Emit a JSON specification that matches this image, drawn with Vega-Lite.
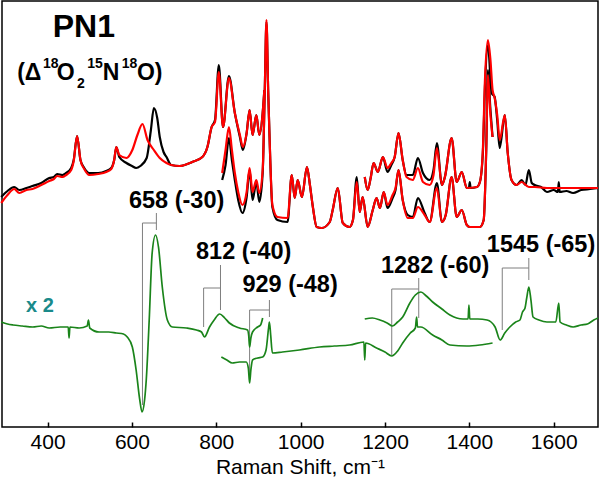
{
  "$schema": "https://vega.github.io/schema/vega-lite/v6.json",
  "width": 596,
  "height": 426,
  "autosize": "none",
  "padding": {"left": 2, "top": 1, "right": 2, "bottom": 52},
  "background": "white",
  "config": {
    "view": {"stroke": "black", "strokeWidth": 1.5},
    "font": "Liberation Sans",
    "axisX": {
      "domain": false,
      "grid": false,
      "tickSize": -5,
      "tickWidth": 1.5,
      "tickColor": "black",
      "labelFont": "Liberation Sans",
      "labelFontSize": 21,
      "labelColor": "black",
      "labelBaseline": "alphabetic",
      "labelPadding": 26,
      "titleFont": "Liberation Sans",
      "titleFontSize": 21,
      "titleFontWeight": "normal",
      "titleColor": "black",
      "titleBaseline": "alphabetic",
      "titleY": 46
    }
  },
  "datasets": {
    "sp": [
      {"s":"kA","c":"k","x":290,"y":230},{"s":"kA","c":"k","x":305,"y":236},{"s":"kA","c":"k","x":321,"y":240},{"s":"kA","c":"k","x":333,"y":237},{"s":"kA","c":"k","x":350,"y":239},{"s":"kA","c":"k","x":364,"y":241},{"s":"kA","c":"k","x":385,"y":244},{"s":"kA","c":"k","x":404,"y":249},{"s":"kA","c":"k","x":415,"y":250},{"s":"kA","c":"k","x":423,"y":253},{"s":"kA","c":"k","x":435,"y":252},{"s":"kA","c":"k","x":444,"y":254},{"s":"kA","c":"k","x":456,"y":259},{"s":"kA","c":"k","x":462,"y":267},{"s":"kA","c":"k","x":470,"y":291},{"s":"kA","c":"k","x":478,"y":267},{"s":"kA","c":"k","x":487,"y":259},{"s":"kA","c":"k","x":499,"y":254},{"s":"kA","c":"k","x":520,"y":254},{"s":"kA","c":"k","x":539,"y":256},{"s":"kA","c":"k","x":551,"y":259},{"s":"kA","c":"k","x":558,"y":267},{"s":"kA","c":"k","x":563,"y":280},{"s":"kA","c":"k","x":570,"y":270},{"s":"kA","c":"k","x":587,"y":264},{"s":"kA","c":"k","x":600,"y":261},{"s":"kA","c":"k","x":610,"y":259},{"s":"kA","c":"k","x":620,"y":261},{"s":"kA","c":"k","x":635,"y":269},{"s":"kA","c":"k","x":645,"y":297},{"s":"kA","c":"k","x":652,"y":319},{"s":"kA","c":"k","x":660,"y":309},{"s":"kA","c":"k","x":666,"y":290},{"s":"kA","c":"k","x":675,"y":275},{"s":"kA","c":"k","x":682,"y":270},{"s":"kA","c":"k","x":693,"y":262},{"s":"kA","c":"k","x":713,"y":261},{"s":"kA","c":"k","x":743,"y":265},{"s":"kA","c":"k","x":767,"y":270},{"s":"kA","c":"k","x":779,"y":280},{"s":"kA","c":"k","x":789,"y":300},{"s":"kA","c":"k","x":797,"y":307},{"s":"kA","c":"k","x":806,"y":362},{"s":"kA","c":"k","x":816,"y":300},{"s":"kA","c":"k","x":830,"y":351},{"s":"kA","c":"k","x":844,"y":314},{"s":"kA","c":"k","x":856,"y":290},{"s":"kA","c":"k","x":863,"y":277},{"s":"kA","c":"k","x":872,"y":294},{"s":"kA","c":"k","x":879,"y":317},{"s":"kA","c":"k","x":886,"y":292},{"s":"kA","c":"k","x":895,"y":312},{"s":"kA","c":"k","x":902,"y":292},{"s":"kA","c":"k","x":910,"y":314},{"s":"kA","c":"k","x":914,"y":337},
      {"s":"kB","c":"k","x":814,"y":247},{"s":"kB","c":"k","x":822,"y":262},{"s":"kB","c":"k","x":830,"y":289},{"s":"kB","c":"k","x":837,"y":267},{"s":"kB","c":"k","x":844,"y":247},{"s":"kB","c":"k","x":852,"y":227},{"s":"kB","c":"k","x":862,"y":214},{"s":"kB","c":"k","x":872,"y":230},{"s":"kB","c":"k","x":879,"y":257},{"s":"kB","c":"k","x":886,"y":227},{"s":"kB","c":"k","x":895,"y":245},{"s":"kB","c":"k","x":902,"y":225},{"s":"kB","c":"k","x":910,"y":254},{"s":"kB","c":"k","x":915,"y":337},{"s":"kB","c":"k","x":919,"y":405},{"s":"kB","c":"k","x":923,"y":337},{"s":"kB","c":"k","x":926,"y":294},{"s":"kB","c":"k","x":933,"y":220},{"s":"kB","c":"k","x":945,"y":207},{"s":"kB","c":"k","x":969,"y":205},{"s":"kB","c":"k","x":979,"y":252},{"s":"kB","c":"k","x":986,"y":229},{"s":"kB","c":"k","x":993,"y":247},{"s":"kB","c":"k","x":1003,"y":230},{"s":"kB","c":"k","x":1015,"y":260},{"s":"kB","c":"k","x":1022,"y":242},{"s":"kB","c":"k","x":1029,"y":220},{"s":"kB","c":"k","x":1038,"y":200},{"s":"kB","c":"k","x":1050,"y":199},{"s":"kB","c":"k","x":1069,"y":205},{"s":"kB","c":"k","x":1076,"y":217},{"s":"kB","c":"k","x":1088,"y":239},{"s":"kB","c":"k","x":1100,"y":204},{"s":"kB","c":"k","x":1116,"y":200},{"s":"kB","c":"k","x":1124,"y":207},{"s":"kB","c":"k","x":1133,"y":250},{"s":"kB","c":"k","x":1140,"y":215},{"s":"kB","c":"k","x":1147,"y":230},{"s":"kB","c":"k","x":1159,"y":200},{"s":"kB","c":"k","x":1171,"y":217},{"s":"kB","c":"k","x":1180,"y":229},{"s":"kB","c":"k","x":1188,"y":219},{"s":"kB","c":"k","x":1197,"y":235},{"s":"kB","c":"k","x":1206,"y":219},{"s":"kB","c":"k","x":1218,"y":229},{"s":"kB","c":"k","x":1225,"y":237},{"s":"kB","c":"k","x":1232,"y":257},{"s":"kB","c":"k","x":1242,"y":227},{"s":"kB","c":"k","x":1254,"y":212},{"s":"kB","c":"k","x":1266,"y":210},{"s":"kB","c":"k","x":1278,"y":229},{"s":"kB","c":"k","x":1294,"y":214},{"s":"kB","c":"k","x":1306,"y":205},{"s":"kB","c":"k","x":1323,"y":244},{"s":"kB","c":"k","x":1335,"y":205},{"s":"kB","c":"k","x":1344,"y":212},{"s":"kB","c":"k","x":1358,"y":250},{"s":"kB","c":"k","x":1370,"y":210},{"s":"kB","c":"k","x":1382,"y":217},{"s":"kB","c":"k","x":1394,"y":202},{"s":"kB","c":"k","x":1401,"y":200},{"s":"kB","c":"k","x":1425,"y":200},{"s":"kB","c":"k","x":1434,"y":207},{"s":"kB","c":"k","x":1440,"y":277},{"s":"kB","c":"k","x":1444,"y":357},{"s":"kB","c":"k","x":1450,"y":317},{"s":"kB","c":"k","x":1455,"y":290},
      {"s":"kC","c":"k","x":1152,"y":250},{"s":"kC","c":"k","x":1159,"y":237},{"s":"kC","c":"k","x":1166,"y":249},{"s":"kC","c":"k","x":1173,"y":264},{"s":"kC","c":"k","x":1183,"y":255},{"s":"kC","c":"k","x":1195,"y":270},{"s":"kC","c":"k","x":1206,"y":255},{"s":"kC","c":"k","x":1215,"y":262},{"s":"kC","c":"k","x":1223,"y":270},{"s":"kC","c":"k","x":1232,"y":294},{"s":"kC","c":"k","x":1242,"y":267},{"s":"kC","c":"k","x":1251,"y":252},{"s":"kC","c":"k","x":1266,"y":252},{"s":"kC","c":"k","x":1278,"y":269},{"s":"kC","c":"k","x":1290,"y":254},{"s":"kC","c":"k","x":1306,"y":247},{"s":"kC","c":"k","x":1315,"y":257},{"s":"kC","c":"k","x":1323,"y":284},{"s":"kC","c":"k","x":1335,"y":242},{"s":"kC","c":"k","x":1342,"y":250},{"s":"kC","c":"k","x":1358,"y":289},{"s":"kC","c":"k","x":1370,"y":245},{"s":"kC","c":"k","x":1382,"y":255},{"s":"kC","c":"k","x":1394,"y":239},{"s":"kC","c":"k","x":1399,"y":239},{"s":"kC","c":"k","x":1401,"y":245},{"s":"kC","c":"k","x":1403,"y":239},{"s":"kC","c":"k","x":1418,"y":240},{"s":"kC","c":"k","x":1425,"y":245},{"s":"kC","c":"k","x":1432,"y":274},{"s":"kC","c":"k","x":1437,"y":340},{"s":"kC","c":"k","x":1444,"y":382},{"s":"kC","c":"k","x":1453,"y":334},{"s":"kC","c":"k","x":1460,"y":330},{"s":"kC","c":"k","x":1466,"y":307},{"s":"kC","c":"k","x":1472,"y":279},{"s":"kC","c":"k","x":1484,"y":312},{"s":"kC","c":"k","x":1491,"y":274},{"s":"kC","c":"k","x":1500,"y":247},{"s":"kC","c":"k","x":1512,"y":242},{"s":"kC","c":"k","x":1524,"y":247},{"s":"kC","c":"k","x":1533,"y":242},{"s":"kC","c":"k","x":1541,"y":257},{"s":"kC","c":"k","x":1548,"y":244},{"s":"kC","c":"k","x":1555,"y":242},{"s":"kC","c":"k","x":1570,"y":240},{"s":"kC","c":"k","x":1584,"y":235},{"s":"kC","c":"k","x":1600,"y":237},{"s":"kC","c":"k","x":1610,"y":235},{"s":"kC","c":"k","x":1612,"y":245},{"s":"kC","c":"k","x":1614,"y":235},{"s":"kC","c":"k","x":1630,"y":236},{"s":"kC","c":"k","x":1646,"y":234},{"s":"kC","c":"k","x":1665,"y":237},{"s":"kC","c":"k","x":1686,"y":238},{"s":"kC","c":"k","x":1705,"y":239},
      {"s":"rA","c":"r","x":290,"y":224},{"s":"rA","c":"r","x":305,"y":232},{"s":"rA","c":"r","x":321,"y":238},{"s":"rA","c":"r","x":333,"y":234},{"s":"rA","c":"r","x":350,"y":237},{"s":"rA","c":"r","x":364,"y":238},{"s":"rA","c":"r","x":385,"y":242},{"s":"rA","c":"r","x":404,"y":246},{"s":"rA","c":"r","x":415,"y":248},{"s":"rA","c":"r","x":423,"y":251},{"s":"rA","c":"r","x":435,"y":250},{"s":"rA","c":"r","x":444,"y":252},{"s":"rA","c":"r","x":456,"y":257},{"s":"rA","c":"r","x":462,"y":266},{"s":"rA","c":"r","x":470,"y":291},{"s":"rA","c":"r","x":478,"y":267},{"s":"rA","c":"r","x":487,"y":258},{"s":"rA","c":"r","x":499,"y":252},{"s":"rA","c":"r","x":520,"y":253},{"s":"rA","c":"r","x":539,"y":255},{"s":"rA","c":"r","x":551,"y":258},{"s":"rA","c":"r","x":558,"y":267},{"s":"rA","c":"r","x":563,"y":280},{"s":"rA","c":"r","x":570,"y":272},{"s":"rA","c":"r","x":587,"y":269},{"s":"rA","c":"r","x":601,"y":277},{"s":"rA","c":"r","x":613,"y":292},{"s":"rA","c":"r","x":625,"y":303},{"s":"rA","c":"r","x":637,"y":287},{"s":"rA","c":"r","x":652,"y":277},{"s":"rA","c":"r","x":666,"y":269},{"s":"rA","c":"r","x":682,"y":264},{"s":"rA","c":"r","x":693,"y":262},{"s":"rA","c":"r","x":713,"y":261},{"s":"rA","c":"r","x":743,"y":265},{"s":"rA","c":"r","x":767,"y":270},{"s":"rA","c":"r","x":779,"y":280},{"s":"rA","c":"r","x":789,"y":300},{"s":"rA","c":"r","x":797,"y":305},{"s":"rA","c":"r","x":806,"y":355},{"s":"rA","c":"r","x":816,"y":300},{"s":"rA","c":"r","x":830,"y":349},{"s":"rA","c":"r","x":844,"y":314},{"s":"rA","c":"r","x":856,"y":292},{"s":"rA","c":"r","x":863,"y":280},{"s":"rA","c":"r","x":872,"y":294},{"s":"rA","c":"r","x":879,"y":317},{"s":"rA","c":"r","x":886,"y":292},{"s":"rA","c":"r","x":895,"y":312},{"s":"rA","c":"r","x":902,"y":292},{"s":"rA","c":"r","x":910,"y":314},{"s":"rA","c":"r","x":914,"y":337},
      {"s":"rB","c":"r","x":814,"y":254},{"s":"rB","c":"r","x":822,"y":277},{"s":"rB","c":"r","x":830,"y":300},{"s":"rB","c":"r","x":837,"y":277},{"s":"rB","c":"r","x":844,"y":254},{"s":"rB","c":"r","x":852,"y":235},{"s":"rB","c":"r","x":862,"y":222},{"s":"rB","c":"r","x":872,"y":235},{"s":"rB","c":"r","x":879,"y":259},{"s":"rB","c":"r","x":886,"y":235},{"s":"rB","c":"r","x":895,"y":247},{"s":"rB","c":"r","x":902,"y":234},{"s":"rB","c":"r","x":910,"y":257},{"s":"rB","c":"r","x":915,"y":337},{"s":"rB","c":"r","x":919,"y":407},{"s":"rB","c":"r","x":923,"y":337},{"s":"rB","c":"r","x":926,"y":294},{"s":"rB","c":"r","x":933,"y":222},{"s":"rB","c":"r","x":945,"y":210},{"s":"rB","c":"r","x":969,"y":209},{"s":"rB","c":"r","x":979,"y":252},{"s":"rB","c":"r","x":986,"y":229},{"s":"rB","c":"r","x":993,"y":247},{"s":"rB","c":"r","x":1003,"y":230},{"s":"rB","c":"r","x":1015,"y":260},{"s":"rB","c":"r","x":1022,"y":242},{"s":"rB","c":"r","x":1029,"y":220},{"s":"rB","c":"r","x":1038,"y":200},{"s":"rB","c":"r","x":1050,"y":199},{"s":"rB","c":"r","x":1069,"y":205},{"s":"rB","c":"r","x":1076,"y":217},{"s":"rB","c":"r","x":1088,"y":239},{"s":"rB","c":"r","x":1100,"y":204},{"s":"rB","c":"r","x":1116,"y":200},{"s":"rB","c":"r","x":1124,"y":207},{"s":"rB","c":"r","x":1133,"y":245},{"s":"rB","c":"r","x":1140,"y":215},{"s":"rB","c":"r","x":1147,"y":230},{"s":"rB","c":"r","x":1159,"y":200},{"s":"rB","c":"r","x":1171,"y":217},{"s":"rB","c":"r","x":1180,"y":229},{"s":"rB","c":"r","x":1188,"y":219},{"s":"rB","c":"r","x":1197,"y":235},{"s":"rB","c":"r","x":1206,"y":222},{"s":"rB","c":"r","x":1218,"y":232},{"s":"rB","c":"r","x":1225,"y":239},{"s":"rB","c":"r","x":1232,"y":257},{"s":"rB","c":"r","x":1242,"y":227},{"s":"rB","c":"r","x":1254,"y":209},{"s":"rB","c":"r","x":1266,"y":209},{"s":"rB","c":"r","x":1278,"y":220},{"s":"rB","c":"r","x":1294,"y":212},{"s":"rB","c":"r","x":1306,"y":205},{"s":"rB","c":"r","x":1323,"y":239},{"s":"rB","c":"r","x":1335,"y":205},{"s":"rB","c":"r","x":1344,"y":212},{"s":"rB","c":"r","x":1358,"y":250},{"s":"rB","c":"r","x":1370,"y":210},{"s":"rB","c":"r","x":1382,"y":217},{"s":"rB","c":"r","x":1394,"y":202},{"s":"rB","c":"r","x":1401,"y":200},{"s":"rB","c":"r","x":1425,"y":200},{"s":"rB","c":"r","x":1434,"y":207},{"s":"rB","c":"r","x":1440,"y":277},{"s":"rB","c":"r","x":1444,"y":352},{"s":"rB","c":"r","x":1450,"y":312},{"s":"rB","c":"r","x":1455,"y":290},
      {"s":"rC","c":"r","x":1152,"y":250},{"s":"rC","c":"r","x":1159,"y":237},{"s":"rC","c":"r","x":1166,"y":249},{"s":"rC","c":"r","x":1173,"y":264},{"s":"rC","c":"r","x":1183,"y":255},{"s":"rC","c":"r","x":1195,"y":270},{"s":"rC","c":"r","x":1206,"y":259},{"s":"rC","c":"r","x":1215,"y":264},{"s":"rC","c":"r","x":1223,"y":270},{"s":"rC","c":"r","x":1232,"y":294},{"s":"rC","c":"r","x":1242,"y":267},{"s":"rC","c":"r","x":1251,"y":250},{"s":"rC","c":"r","x":1266,"y":247},{"s":"rC","c":"r","x":1278,"y":259},{"s":"rC","c":"r","x":1290,"y":245},{"s":"rC","c":"r","x":1306,"y":242},{"s":"rC","c":"r","x":1315,"y":252},{"s":"rC","c":"r","x":1323,"y":279},{"s":"rC","c":"r","x":1335,"y":242},{"s":"rC","c":"r","x":1342,"y":250},{"s":"rC","c":"r","x":1358,"y":289},{"s":"rC","c":"r","x":1370,"y":245},{"s":"rC","c":"r","x":1382,"y":255},{"s":"rC","c":"r","x":1394,"y":239},{"s":"rC","c":"r","x":1418,"y":240},{"s":"rC","c":"r","x":1425,"y":245},{"s":"rC","c":"r","x":1432,"y":277},{"s":"rC","c":"r","x":1437,"y":347},{"s":"rC","c":"r","x":1444,"y":387},{"s":"rC","c":"r","x":1450,"y":367},{"s":"rC","c":"r","x":1455,"y":337},{"s":"rC","c":"r","x":1460,"y":329},{"s":"rC","c":"r","x":1466,"y":312},{"s":"rC","c":"r","x":1472,"y":287},{"s":"rC","c":"r","x":1484,"y":312},{"s":"rC","c":"r","x":1491,"y":274},{"s":"rC","c":"r","x":1500,"y":247},{"s":"rC","c":"r","x":1512,"y":242},{"s":"rC","c":"r","x":1524,"y":245},{"s":"rC","c":"r","x":1541,"y":240},{"s":"rC","c":"r","x":1555,"y":240},{"s":"rC","c":"r","x":1584,"y":239},{"s":"rC","c":"r","x":1646,"y":239},{"s":"rC","c":"r","x":1686,"y":239},{"s":"rC","c":"r","x":1705,"y":239},
      {"s":"gA","c":"g","x":290,"y":105},{"s":"gA","c":"g","x":305,"y":103},{"s":"gA","c":"g","x":318,"y":102},{"s":"gA","c":"g","x":340,"y":101},{"s":"gA","c":"g","x":365,"y":100},{"s":"gA","c":"g","x":385,"y":101},{"s":"gA","c":"g","x":404,"y":99},{"s":"gA","c":"g","x":430,"y":100},{"s":"gA","c":"g","x":449,"y":100},{"s":"gA","c":"g","x":451,"y":89},{"s":"gA","c":"g","x":453,"y":100},{"s":"gA","c":"g","x":475,"y":99},{"s":"gA","c":"g","x":494,"y":101},{"s":"gA","c":"g","x":497,"y":107},{"s":"gA","c":"g","x":500,"y":99},{"s":"gA","c":"g","x":522,"y":95},{"s":"gA","c":"g","x":545,"y":95},{"s":"gA","c":"g","x":563,"y":94},{"s":"gA","c":"g","x":580,"y":93},{"s":"gA","c":"g","x":589,"y":90},{"s":"gA","c":"g","x":601,"y":80},{"s":"gA","c":"g","x":610,"y":57},{"s":"gA","c":"g","x":618,"y":29},{"s":"gA","c":"g","x":624,"y":15},{"s":"gA","c":"g","x":630,"y":27},{"s":"gA","c":"g","x":634,"y":47},{"s":"gA","c":"g","x":641,"y":107},{"s":"gA","c":"g","x":648,"y":174},{"s":"gA","c":"g","x":656,"y":192},{"s":"gA","c":"g","x":663,"y":180},{"s":"gA","c":"g","x":672,"y":140},{"s":"gA","c":"g","x":684,"y":107},{"s":"gA","c":"g","x":696,"y":100},{"s":"gA","c":"g","x":729,"y":99},{"s":"gA","c":"g","x":753,"y":97},{"s":"gA","c":"g","x":765,"y":95},{"s":"gA","c":"g","x":772,"y":90},{"s":"gA","c":"g","x":784,"y":100},{"s":"gA","c":"g","x":795,"y":107},{"s":"gA","c":"g","x":808,"y":113},{"s":"gA","c":"g","x":820,"y":109},{"s":"gA","c":"g","x":831,"y":104},{"s":"gA","c":"g","x":855,"y":99},{"s":"gA","c":"g","x":874,"y":97},{"s":"gA","c":"g","x":877,"y":91},{"s":"gA","c":"g","x":879,"y":80},{"s":"gA","c":"g","x":882,"y":89},{"s":"gA","c":"g","x":886,"y":95},{"s":"gA","c":"g","x":898,"y":100},{"s":"gA","c":"g","x":905,"y":102},{"s":"gA","c":"g","x":910,"y":109},
      {"s":"gB","c":"g","x":812,"y":70},{"s":"gB","c":"g","x":825,"y":67},{"s":"gB","c":"g","x":838,"y":64},{"s":"gB","c":"g","x":855,"y":65},{"s":"gB","c":"g","x":871,"y":65},{"s":"gB","c":"g","x":876,"y":59},{"s":"gB","c":"g","x":879,"y":44},{"s":"gB","c":"g","x":882,"y":57},{"s":"gB","c":"g","x":886,"y":67},{"s":"gB","c":"g","x":898,"y":69},{"s":"gB","c":"g","x":910,"y":70},{"s":"gB","c":"g","x":918,"y":77},{"s":"gB","c":"g","x":924,"y":99},{"s":"gB","c":"g","x":926,"y":105},{"s":"gB","c":"g","x":929,"y":92},{"s":"gB","c":"g","x":933,"y":74},{"s":"gB","c":"g","x":957,"y":75},{"s":"gB","c":"g","x":997,"y":77},{"s":"gB","c":"g","x":1045,"y":80},{"s":"gB","c":"g","x":1080,"y":81},{"s":"gB","c":"g","x":1116,"y":82},{"s":"gB","c":"g","x":1150,"y":85},{"s":"gB","c":"g","x":1152,"y":67},{"s":"gB","c":"g","x":1154,"y":84},{"s":"gB","c":"g","x":1180,"y":79},{"s":"gB","c":"g","x":1200,"y":75},{"s":"gB","c":"g","x":1216,"y":71},{"s":"gB","c":"g","x":1230,"y":76},{"s":"gB","c":"g","x":1242,"y":84},{"s":"gB","c":"g","x":1260,"y":94},{"s":"gB","c":"g","x":1272,"y":99},{"s":"gB","c":"g","x":1275,"y":110},{"s":"gB","c":"g","x":1277,"y":100},{"s":"gB","c":"g","x":1285,"y":100},{"s":"gB","c":"g","x":1313,"y":92},{"s":"gB","c":"g","x":1335,"y":87},{"s":"gB","c":"g","x":1354,"y":82},{"s":"gB","c":"g","x":1394,"y":81},{"s":"gB","c":"g","x":1425,"y":82},{"s":"gB","c":"g","x":1455,"y":84},
      {"s":"gC","c":"g","x":1152,"y":108},{"s":"gC","c":"g","x":1170,"y":109},{"s":"gC","c":"g","x":1188,"y":107},{"s":"gC","c":"g","x":1205,"y":104},{"s":"gC","c":"g","x":1218,"y":101},{"s":"gC","c":"g","x":1230,"y":105},{"s":"gC","c":"g","x":1242,"y":110},{"s":"gC","c":"g","x":1259,"y":124},{"s":"gC","c":"g","x":1272,"y":132},{"s":"gC","c":"g","x":1285,"y":135},{"s":"gC","c":"g","x":1298,"y":131},{"s":"gC","c":"g","x":1313,"y":125},{"s":"gC","c":"g","x":1335,"y":118},{"s":"gC","c":"g","x":1354,"y":112},{"s":"gC","c":"g","x":1385,"y":108},{"s":"gC","c":"g","x":1397,"y":108},{"s":"gC","c":"g","x":1399,"y":122},{"s":"gC","c":"g","x":1401,"y":108},{"s":"gC","c":"g","x":1420,"y":108},{"s":"gC","c":"g","x":1442,"y":107},{"s":"gC","c":"g","x":1461,"y":100},{"s":"gC","c":"g","x":1473,"y":87},{"s":"gC","c":"g","x":1484,"y":94},{"s":"gC","c":"g","x":1496,"y":100},{"s":"gC","c":"g","x":1510,"y":105},{"s":"gC","c":"g","x":1520,"y":107},{"s":"gC","c":"g","x":1526,"y":115},{"s":"gC","c":"g","x":1532,"y":119},{"s":"gC","c":"g","x":1536,"y":129},{"s":"gC","c":"g","x":1541,"y":140},{"s":"gC","c":"g","x":1546,"y":127},{"s":"gC","c":"g","x":1551,"y":110},{"s":"gC","c":"g","x":1565,"y":107},{"s":"gC","c":"g","x":1584,"y":105},{"s":"gC","c":"g","x":1605,"y":105},{"s":"gC","c":"g","x":1612,"y":124},{"s":"gC","c":"g","x":1615,"y":105},{"s":"gC","c":"g","x":1630,"y":102},{"s":"gC","c":"g","x":1646,"y":100},{"s":"gC","c":"g","x":1665,"y":102},{"s":"gC","c":"g","x":1680,"y":103},{"s":"gC","c":"g","x":1695,"y":107},{"s":"gC","c":"g","x":1705,"y":109}
    ],
    "brk": [
      {"x":625,"y":22,"x2":625,"y2":204},{"x":625,"y":204,"x2":658,"y2":204},{"x":658,"y":214,"x2":658,"y2":197},
      {"x":770,"y":100,"x2":770,"y2":139},{"x":770,"y":139,"x2":810,"y2":139},{"x":810,"y":162,"x2":810,"y2":117},
      {"x":879,"y":47,"x2":879,"y2":117},{"x":879,"y":117,"x2":926,"y2":117},{"x":926,"y":127,"x2":926,"y2":110},
      {"x":1216,"y":72,"x2":1216,"y2":138},{"x":1216,"y":138,"x2":1280,"y2":138},{"x":1280,"y":149,"x2":1280,"y2":109},
      {"x":1478,"y":97,"x2":1478,"y2":159},{"x":1478,"y":159,"x2":1541,"y2":159},{"x":1541,"y":169,"x2":1541,"y2":147}
    ],
    "ann": [
      {"x":706,"y":219,"t":"658 (-30)"},
      {"x":865,"y":168,"t":"812 (-40)"},
      {"x":975,"y":135,"t":"929 (-48)"},
      {"x":1319,"y":154,"t":"1282 (-60)"},
      {"x":1570,"y":175,"t":"1545 (-65)"}
    ],
    "minor": [{"x":300},{"x":500},{"x":700},{"x":900},{"x":1100},{"x":1300},{"x":1500},{"x":1700}],
    "mainTxt": [
      {"x":328,"y":347,"t":"(Δ"},{"x":422,"y":347,"t":"O"},{"x":531,"y":347,"t":"N"},{"x":612,"y":347,"t":"O)"}
    ],
    "supTxt": [
      {"x":389,"y":359,"t":"18"},{"x":494,"y":359,"t":"15"},{"x":576,"y":359,"t":"18"}
    ],
    "subTxt": [
      {"x":470,"y":339,"t":"2"}
    ],
    "titleTxt": [{"x":486,"y":390,"t":"PN1"}],
    "scaleTxt": [{"x":349,"y":115,"t":"x 2"}]
  },
  "encoding": {
    "x": {"field":"x","type":"quantitative","scale":{"domain":[292,1705],"nice":false,"zero":false},
          "axis":{"values":[400,600,800,1000,1200,1400,1600],"format":"d","title":"Raman Shift, cm⁻¹"}},
    "y": {"field":"y","type":"quantitative","scale":{"domain":[0,426],"nice":false,"zero":false},"axis":null}
  },
  "layer": [
    {"data":{"name":"minor"},"mark":{"type":"rule","color":"black","strokeWidth":1.5},
     "encoding":{"y":{"datum":0},"y2":{"datum":3}}},
    {"data":{"name":"brk"},"mark":{"type":"rule","color":"#7f7f7f","strokeWidth":1},
     "encoding":{"x2":{"field":"x2"},"y2":{"field":"y2"}}},
    {"data":{"name":"sp"},"transform":[{"filter":"datum.c === 'k'"}],
     "mark":{"type":"line","color":"black","strokeWidth":2.2,"strokeJoin":"round","interpolate":"monotone"},
     "encoding":{"detail":{"field":"s"}}},
    {"data":{"name":"sp"},"transform":[{"filter":"datum.c === 'r'"}],
     "mark":{"type":"line","color":"#ff0000","strokeWidth":2.2,"strokeJoin":"round","interpolate":"monotone"},
     "encoding":{"detail":{"field":"s"}}},
    {"data":{"name":"sp"},"transform":[{"filter":"datum.c === 'g'"}],
     "mark":{"type":"line","color":"#1a841a","strokeWidth":1.7,"strokeJoin":"round","interpolate":"monotone"},
     "encoding":{"detail":{"field":"s"}}},
    {"data":{"name":"ann"},"mark":{"type":"text","font":"Liberation Sans","fontSize":23.5,"fontWeight":"bold","color":"black","align":"center","baseline":"alphabetic"},
     "encoding":{"text":{"field":"t"}}},
    {"data":{"name":"titleTxt"},"mark":{"type":"text","font":"Liberation Sans","fontSize":32,"fontWeight":"bold","color":"black","align":"center","baseline":"alphabetic"},
     "encoding":{"text":{"field":"t"}}},
    {"data":{"name":"mainTxt"},"mark":{"type":"text","font":"Liberation Sans","fontSize":23,"fontWeight":"bold","color":"black","align":"left","baseline":"alphabetic"},
     "encoding":{"text":{"field":"t"}}},
    {"data":{"name":"supTxt"},"mark":{"type":"text","font":"Liberation Sans","fontSize":14,"fontWeight":"bold","color":"black","align":"left","baseline":"alphabetic"},
     "encoding":{"text":{"field":"t"}}},
    {"data":{"name":"subTxt"},"mark":{"type":"text","font":"Liberation Sans","fontSize":14,"fontWeight":"bold","color":"black","align":"left","baseline":"alphabetic"},
     "encoding":{"text":{"field":"t"}}},
    {"data":{"name":"scaleTxt"},"mark":{"type":"text","font":"Liberation Sans","fontSize":20,"fontWeight":"bold","color":"#1a8a8a","align":"left","baseline":"alphabetic"},
     "encoding":{"text":{"field":"t"}}}
  ]
}
